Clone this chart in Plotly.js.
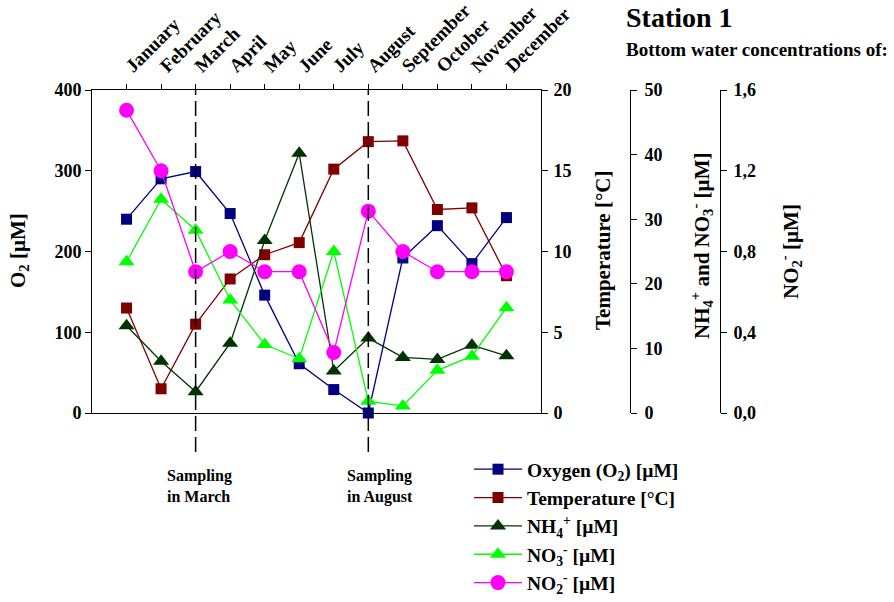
<!DOCTYPE html>
<html><head><meta charset="utf-8">
<script src="https://cdn.plot.ly/plotly-3.0.1.min.js"></script>
<style>html,body{margin:0;padding:0;background:#fff;}#chart{width:894px;height:602px;}</style>
</head><body><div id="chart"></div>
<script>
const months = ["January","February","March","April","May","June","July","August","September","October","November","December"];
const monthIdx = [1,2,3,4,5,6,7,8,9,10,11,12];
const oxygen = [240,290,299,247,146,61,29,0,192,232,185,242];
const temperature = [6.5,1.5,5.5,8.3,9.8,10.55,15.1,16.8,16.85,12.6,12.7,8.5];
const nh4 = [13.5,8.0,3.3,10.8,26.7,40.2,6.5,11.6,8.6,8.3,10.5,8.85];
const no3 = [23.4,33.1,28.3,17.5,10.6,8.4,25.0,1.8,1.1,6.6,8.8,16.3];
const no2 = [1.5,1.2,0.7,0.8,0.7,0.7,0.3,1.0,0.8,0.7,0.7,0.7];
const samplingMonths = [3,8];

const W = 894, H = 602, L = 92, R = 44, T = 90, B = 189;
const PW = W - L - R, PH = H - T - B;
const px = v => (v - L) / PW;           // pixel x -> paper x
const py = v => (H - B - v) / PH;       // pixel y -> paper y
const FF = "Liberation Serif, Times New Roman, serif";
const tickFont = {family: FF, size: 18, color: "#000", weight: "bold"};
const titleFont = {family: FF, size: 21, color: "#000", weight: "bold"};

function tr(name, y, yaxis, color, symbol, size) {
  return {x: monthIdx, y: y, yaxis: yaxis, name: name, type: "scatter", mode: "lines+markers",
    line: {color: color, width: 1.3}, marker: {color: color, symbol: symbol, size: size, line: {width: 0}},
    legendgroup: name, cliponaxis: false};
}
const data = [
  tr("Oxygen (O<sub>2</sub>) [µM]", oxygen, "y", "#000080", "square", 11),
  tr("Temperature [°C]", temperature, "y2", "#800000", "square", 11),
  tr("NH<sub>4</sub><sup>+</sup> [µM]", nh4, "y3", "#003300", "triangle-up", 14),
  tr("NO<sub>3</sub><sup>-</sup> [µM]", no3, "y4", "#00ff00", "triangle-up", 14),
  tr("NO<sub>2</sub><sup>-</sup> [µM]", no2, "y5", "#ff00ff", "circle", 15)
];

const xDomEnd = (541 - L) / PW;
const axCommon = {showgrid: false, zeroline: false, showline: true, linecolor: "#000", linewidth: 1,
  ticks: "outside", ticklen: 6, tickcolor: "#000", tickfont: tickFont, fixedrange: true};

function ann(text, x, y, font, extra) {
  return Object.assign({text: text, xref: "paper", yref: "paper", x: px(x), y: py(y), xanchor: "center", yanchor: "middle",
    showarrow: false, font: font}, extra || {});
}

const layout = {
  width: W, height: H, margin: {l: L, r: R, t: T, b: B, pad: 0, autoexpand: false},
  paper_bgcolor: "#fff", plot_bgcolor: "rgba(0,0,0,0)",
  separators: ", ",
  showlegend: true,
  xaxis: Object.assign({}, axCommon, {domain: [0, xDomEnd], range: [0, 13], side: "top", mirror: true,
    tickvals: monthIdx, ticktext: months, tickangle: -45, ticklen: 5,
    tickfont: {family: FF, size: 19, color: "#000", weight: "bold"}}),
  yaxis: Object.assign({}, axCommon, {range: [0, 400], dtick: 100}),
  yaxis2: Object.assign({}, axCommon, {range: [0, 20], dtick: 5, overlaying: "y", side: "right", anchor: "x", ticklabelstandoff: 2}),
  yaxis3: Object.assign({}, axCommon, {range: [0, 50], dtick: 10, overlaying: "y", side: "right", anchor: "free", position: px(630), ticklabelstandoff: 4}),
  yaxis4: Object.assign({}, axCommon, {range: [0, 50], dtick: 10, overlaying: "y", side: "right", anchor: "free", position: px(630), visible: false}),
  yaxis5: Object.assign({}, axCommon, {range: [0, 1.6], dtick: 0.4, tickformat: ".1f", overlaying: "y", side: "right", anchor: "free", position: px(720), ticklabelstandoff: 3}),
  legend: {x: px(469), y: py(450), xanchor: "left", yanchor: "top", bgcolor: "rgba(0,0,0,0)",
    font: {family: FF, size: 19.5, color: "#000", weight: "bold"}, itemwidth: 48, tracegroupgap: 5, traceorder: "normal"},
  shapes: samplingMonths.map(m => ({type: "line", xref: "x", yref: "paper", x0: m, x1: m, y0: py(452), y1: 1,
    line: {color: "#000", width: 1.5, dash: "15px,6px"}})),
  annotations: [
    ann("Station 1", 624, 17, {family: FF, size: 28, color: "#000", weight: "bold"}, {xanchor: "left"}),
    ann("Bottom water concentrations of:", 624, 50, {family: FF, size: 19, color: "#000", weight: "bold"}, {xanchor: "left"}),
    ann("O<sub>2</sub> [µM]", 19, 251, titleFont, {textangle: -90}),
    ann("Temperature [°C]", 603, 251, titleFont, {textangle: -90}),
    ann("NH<sub>4</sub><sup>+</sup> and NO<sub>3</sub><sup>-</sup> [µM]", 701, 246, titleFont, {textangle: -90}),
    ann("NO<sub>2</sub><sup>-</sup> [µM]", 790, 252, titleFont, {textangle: -90}),
    ann("Sampling<br>in March", 165, 465, {family: FF, size: 16, color: "#000", weight: "bold"}, {xanchor: "left", yanchor: "top", align: "left"}),
    ann("Sampling<br>in August", 345, 465, {family: FF, size: 16, color: "#000", weight: "bold"}, {xanchor: "left", yanchor: "top", align: "left"})
  ]
};
Plotly.newPlot("chart", data, layout, {displayModeBar: false, staticPlot: true});
</script></body></html>
